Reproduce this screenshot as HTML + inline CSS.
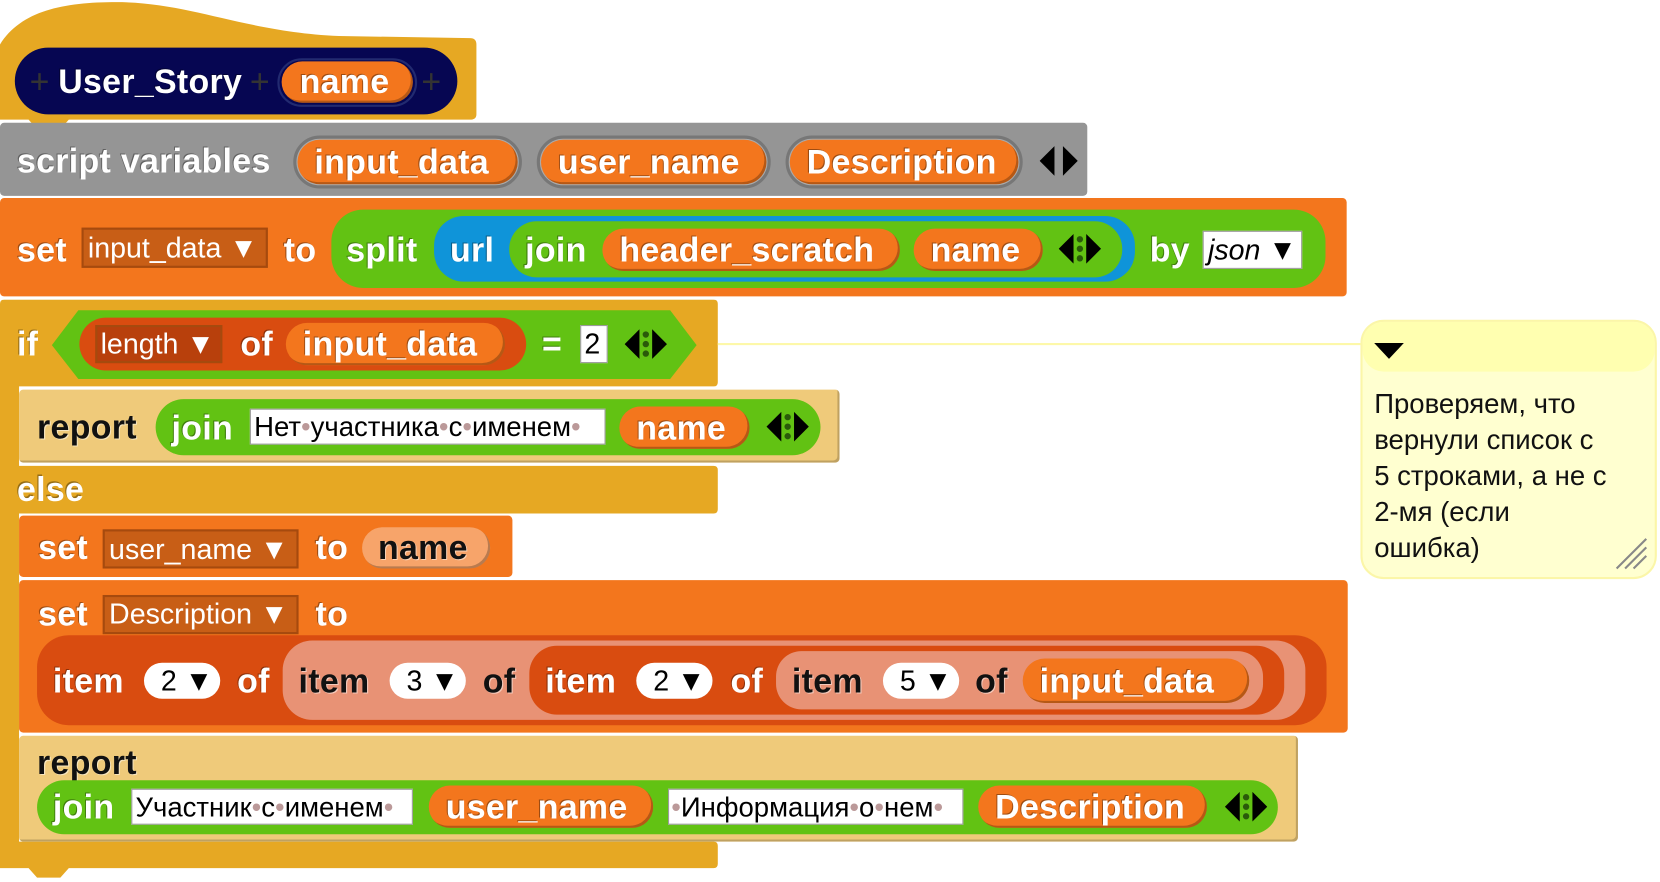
<!DOCTYPE html>
<html><head><meta charset="utf-8"><style>
html,body{margin:0;padding:0;background:#fff;width:1660px;height:880px;overflow:hidden}
#s{position:absolute;left:0;top:0;width:1568px;height:831px;transform:scale(1.0587);transform-origin:0 0}
.b{position:absolute;box-sizing:border-box}
.t{position:absolute;font:bold 32px "Liberation Sans",sans-serif;letter-spacing:0.3px;color:#fff;white-space:nowrap;line-height:34px;text-shadow:-1px -1px 0 rgba(0,0,0,.35)}
.k{color:#111;text-shadow:1px 1px 0 rgba(255,255,255,.5)}
.n{position:absolute;font:27px "Liberation Sans","DejaVu Sans",sans-serif;color:#fff;white-space:nowrap;line-height:34px}
.pill{position:absolute;box-sizing:border-box;background:#f3761d;border-radius:22px;box-shadow:inset -2px -2px 0 rgba(0,0,0,.25)}
.dd{position:absolute;box-sizing:border-box;background:#c85e16;border:2px solid #a64a0e}
.wb{position:absolute;box-sizing:border-box;background:#fff;border:1px solid #999}
.ar{position:absolute}
</style></head><body><div id="s">

<!-- hat -->
<svg class="b" style="left:0;top:0" width="460" height="125"><path d="M0,42 C20,10 60,2 110,2 C180,2 230,30 320,34 L444,36 Q450,36 450,42 L450,108 Q450,113 444,113 L65,113 L57,122 L35,122 L27,113 L0,113 Z" fill="#e6a823"/></svg>
<div class="b" style="left:14px;top:45px;width:418px;height:63px;background:#060652;border-radius:32px"></div>
<div class="t" style="left:28px;top:60px;color:#333;font-weight:normal;text-shadow:none">+</div>
<div class="t" style="left:55px;top:60px">User_Story</div>
<div class="t" style="left:236px;top:60px;color:#333;font-weight:normal;text-shadow:none">+</div>
<div class="b" style="left:262px;top:55px;width:132px;height:46px;border:2px solid #222a70;border-radius:24px"></div>
<div class="pill" style="left:266px;top:58px;width:124px;height:39px"></div>
<div class="t" style="left:283px;top:60px">name</div>
<div class="t" style="left:398px;top:60px;color:#333;font-weight:normal;text-shadow:none">+</div>

<!-- script variables -->
<div class="b" style="left:0;top:116px;width:1027px;height:69px;background:#959595;border-radius:4px"></div>
<div class="t" style="left:16px;top:135px">script variables</div>
<div class="b" style="left:277px;top:128px;width:216px;height:50px;border:3px solid #777;border-radius:26px;background:#aaa"></div>
<div class="pill" style="left:281px;top:132px;width:208px;height:42px"></div>
<div class="t" style="left:297px;top:136px">input_data</div>
<div class="b" style="left:507px;top:128px;width:221px;height:50px;border:3px solid #777;border-radius:26px;background:#aaa"></div>
<div class="pill" style="left:511px;top:132px;width:213px;height:42px"></div>
<div class="t" style="left:527px;top:136px">user_name</div>
<div class="b" style="left:742px;top:128px;width:224px;height:50px;border:3px solid #777;border-radius:26px;background:#aaa"></div>
<div class="pill" style="left:746px;top:132px;width:216px;height:42px"></div>
<div class="t" style="left:762px;top:136px">Description</div>
<svg class="ar" style="left:982px;top:136px" width="36" height="32"><polygon points="0,16 14,2 14,30" fill="#000"/><polygon points="36,16 22,2 22,30" fill="#000"/></svg>

<!-- set input_data -->
<div class="b" style="left:0;top:187px;width:1272px;height:93px;background:#f3761d;border-radius:4px"></div>
<div class="t" style="left:16px;top:219px">set</div>
<div class="dd" style="left:77px;top:215px;width:176px;height:38px"></div>
<div class="n" style="left:83px;top:217px">input_data ▼</div>
<div class="t" style="left:268px;top:219px">to</div>
<div class="b" style="left:313px;top:198px;width:939px;height:74px;background:#62c213;border-radius:30px"></div>
<div class="t" style="left:327px;top:219px">split</div>
<div class="b" style="left:410px;top:204px;width:662px;height:62px;background:#0f94d9;border-radius:28px"></div>
<div class="t" style="left:425px;top:219px">url</div>
<div class="b" style="left:481px;top:209px;width:579px;height:53px;background:#62c213;border-radius:26px"></div>
<div class="t" style="left:496px;top:219px">join</div>
<div class="pill" style="left:569px;top:216px;width:281px;height:40px"></div>
<div class="t" style="left:585px;top:219px">header_scratch</div>
<div class="pill" style="left:863px;top:216px;width:122px;height:40px"></div>
<div class="t" style="left:879px;top:219px">name</div>
<svg class="ar" style="left:1000px;top:219px" width="40" height="32"><polygon points="0,16 14,2 14,30" fill="#000"/><polygon points="40,16 26,2 26,30" fill="#000"/><circle cx="20" cy="7" r="3" fill="#2a5a0a"/><circle cx="20" cy="16" r="3" fill="#2a5a0a"/><circle cx="20" cy="25" r="3" fill="#2a5a0a"/></svg>
<div class="t" style="left:1086px;top:219px">by</div>
<div class="wb" style="left:1136px;top:218px;width:94px;height:36px"></div>
<div class="n" style="left:1141px;top:219px;color:#000;font-style:italic">json ▼</div>

<!-- if/else C block -->
<svg class="b" style="left:0;top:283px" width="690" height="550"><path d="M4,0 L674,0 Q678,0 678,4 L678,78 Q678,82 674,82 L18,82 L18,157 L674,157 Q678,157 678,161 L678,198 Q678,202 674,202 L18,202 L18,512 L674,512 Q678,512 678,516 L678,533 Q678,537 674,537 L65,537 L57,546 L35,546 L27,537 L0,537 L0,4 Q0,0 4,0 Z" fill="#e6a823"/></svg>
<div class="t" style="left:16px;top:308px">if</div>
<svg class="b" style="left:48px;top:292px" width="612" height="68"><path d="M26,1 L585,1 L610,34 L585,66 L26,66 L1,34 Z" fill="#62c213"/></svg>
<div class="b" style="left:75px;top:300px;width:422px;height:50px;background:#d94c10;border-radius:25px"></div>
<div class="dd" style="left:90px;top:307px;width:120px;height:36px;background:#b8400c"></div>
<div class="n" style="left:95px;top:308px">length ▼</div>
<div class="t" style="left:227px;top:308px">of</div>
<div class="pill" style="left:270px;top:305px;width:207px;height:40px"></div>
<div class="t" style="left:286px;top:308px">input_data</div>
<div class="t" style="left:512px;top:308px">=</div>
<div class="wb" style="left:548px;top:307px;width:26px;height:36px"></div>
<div class="n" style="left:552px;top:308px;color:#000">2</div>
<svg class="ar" style="left:590px;top:309px" width="40" height="32"><polygon points="0,16 14,2 14,30" fill="#000"/><polygon points="40,16 26,2 26,30" fill="#000"/><circle cx="20" cy="7" r="3" fill="#2a5a0a"/><circle cx="20" cy="16" r="3" fill="#2a5a0a"/><circle cx="20" cy="25" r="3" fill="#2a5a0a"/></svg>
<div class="b" style="left:678px;top:324px;width:607px;height:2px;background:#fdf8a8"></div>

<!-- report 1 -->
<div class="b" style="left:18px;top:368px;width:775px;height:69px;background:#efca7a;border-radius:4px;box-shadow:inset -2px -2px 0 rgba(0,0,0,.2)"></div>
<div class="t k" style="left:35px;top:386px">report</div>
<div class="b" style="left:147px;top:377px;width:628px;height:53px;background:#62c213;border-radius:27px"></div>
<div class="t" style="left:162px;top:387px">join</div>
<div class="wb" style="left:236px;top:386px;width:336px;height:34px"></div>
<div class="n" style="left:240px;top:386px;color:#000;font-size:26px">Нет<span style="color:#b99">•</span>участника<span style="color:#b99">•</span>с<span style="color:#b99">•</span>именем<span style="color:#b99">•</span></div>
<div class="pill" style="left:585px;top:384px;width:123px;height:40px"></div>
<div class="t" style="left:601px;top:387px">name</div>
<svg class="ar" style="left:724px;top:387px" width="40" height="32"><polygon points="0,16 14,2 14,30" fill="#000"/><polygon points="40,16 26,2 26,30" fill="#000"/><circle cx="20" cy="7" r="3" fill="#2a5a0a"/><circle cx="20" cy="16" r="3" fill="#2a5a0a"/><circle cx="20" cy="25" r="3" fill="#2a5a0a"/></svg>

<div class="t" style="left:16px;top:445px">else</div>

<!-- set user_name -->
<div class="b" style="left:18px;top:487px;width:466px;height:58px;background:#f3761d;border-radius:4px"></div>
<div class="t" style="left:36px;top:500px">set</div>
<div class="dd" style="left:97px;top:500px;width:185px;height:37px"></div>
<div class="n" style="left:103px;top:502px">user_name ▼</div>
<div class="t" style="left:298px;top:500px">to</div>
<div class="pill" style="left:342px;top:498px;width:121px;height:39px;background:#f7a46a"></div>
<div class="t k" style="left:357px;top:500px">name</div>

<!-- set Description -->
<div class="b" style="left:18px;top:548px;width:1255px;height:144px;background:#f3761d;border-radius:4px"></div>
<div class="t" style="left:36px;top:563px">set</div>
<div class="dd" style="left:97px;top:562px;width:185px;height:37px"></div>
<div class="n" style="left:103px;top:563px">Description ▼</div>
<div class="t" style="left:298px;top:563px">to</div>
<div class="b" style="left:35px;top:600px;width:1218px;height:85px;background:#d94c10;border-radius:30px"></div>
<div class="t" style="left:50px;top:626px">item</div>
<div class="b" style="left:136px;top:626px;width:72px;height:34px;background:#fff;border-radius:17px"></div>
<div class="n" style="left:152px;top:626px;color:#000">2 ▼</div>
<div class="t" style="left:224px;top:626px">of</div>
<div class="b" style="left:267px;top:605px;width:966px;height:75px;background:#e89275;border-radius:28px"></div>
<div class="t k" style="left:282px;top:626px">item</div>
<div class="b" style="left:368px;top:626px;width:72px;height:34px;background:#fff;border-radius:17px"></div>
<div class="n" style="left:384px;top:626px;color:#000">3 ▼</div>
<div class="t k" style="left:456px;top:626px">of</div>
<div class="b" style="left:500px;top:610px;width:713px;height:65px;background:#d94c10;border-radius:26px"></div>
<div class="t" style="left:515px;top:626px">item</div>
<div class="b" style="left:601px;top:626px;width:72px;height:34px;background:#fff;border-radius:17px"></div>
<div class="n" style="left:617px;top:626px;color:#000">2 ▼</div>
<div class="t" style="left:690px;top:626px">of</div>
<div class="b" style="left:733px;top:615px;width:460px;height:55px;background:#e89275;border-radius:24px"></div>
<div class="t k" style="left:748px;top:626px">item</div>
<div class="b" style="left:834px;top:626px;width:72px;height:34px;background:#fff;border-radius:17px"></div>
<div class="n" style="left:850px;top:626px;color:#000">5 ▼</div>
<div class="t k" style="left:921px;top:626px">of</div>
<div class="pill" style="left:966px;top:622px;width:214px;height:42px"></div>
<div class="t" style="left:982px;top:626px">input_data</div>

<!-- report 2 -->
<div class="b" style="left:18px;top:695px;width:1208px;height:100px;background:#efca7a;border-radius:4px;box-shadow:inset -2px -2px 0 rgba(0,0,0,.2)"></div>
<div class="t k" style="left:35px;top:703px">report</div>
<div class="b" style="left:35px;top:737px;width:1172px;height:51px;background:#62c213;border-radius:26px"></div>
<div class="t" style="left:50px;top:745px">join</div>
<div class="wb" style="left:124px;top:745px;width:266px;height:34px"></div>
<div class="n" style="left:128px;top:745px;color:#000;font-size:26px">Участник<span style="color:#b99">•</span>с<span style="color:#b99">•</span>именем<span style="color:#b99">•</span></div>
<div class="pill" style="left:405px;top:742px;width:212px;height:40px"></div>
<div class="t" style="left:421px;top:745px">user_name</div>
<div class="wb" style="left:631px;top:745px;width:279px;height:34px"></div>
<div class="n" style="left:634px;top:745px;color:#000;font-size:26px"><span style="color:#b99">•</span>Информация<span style="color:#b99">•</span>о<span style="color:#b99">•</span>нем<span style="color:#b99">•</span></div>
<div class="pill" style="left:924px;top:742px;width:216px;height:40px"></div>
<div class="t" style="left:940px;top:745px">Description</div>
<svg class="ar" style="left:1157px;top:746px" width="40" height="32"><polygon points="0,16 14,2 14,30" fill="#000"/><polygon points="40,16 26,2 26,30" fill="#000"/><circle cx="20" cy="7" r="3" fill="#2a5a0a"/><circle cx="20" cy="16" r="3" fill="#2a5a0a"/><circle cx="20" cy="25" r="3" fill="#2a5a0a"/></svg>

<!-- comment -->
<div class="b" style="left:1285px;top:302px;width:280px;height:245px;background:#ffffd0;border:2px solid #fbf6a8;border-radius:22px;overflow:hidden">
<div style="height:47px;background:#ffffb0;border-radius:0 0 20px 20px"></div></div>
<div class="b" style="left:1298px;top:324px;width:0;height:0;border-left:14px solid transparent;border-right:14px solid transparent;border-top:15px solid #000"></div>
<div class="b" style="left:1298px;top:364px;font:26px 'Liberation Sans','DejaVu Sans',sans-serif;line-height:34px;color:#111;white-space:nowrap">Проверяем, что<br>вернули список с<br>5 строками, а не с<br>2-мя (если<br>ошибка)</div>
<svg class="b" style="left:1525px;top:507px" width="32" height="32"><path d="M2,30 L30,2 M10,30 L30,10 M18,30 L30,18" stroke="#888" stroke-width="2"/></svg>

</div></body></html>
